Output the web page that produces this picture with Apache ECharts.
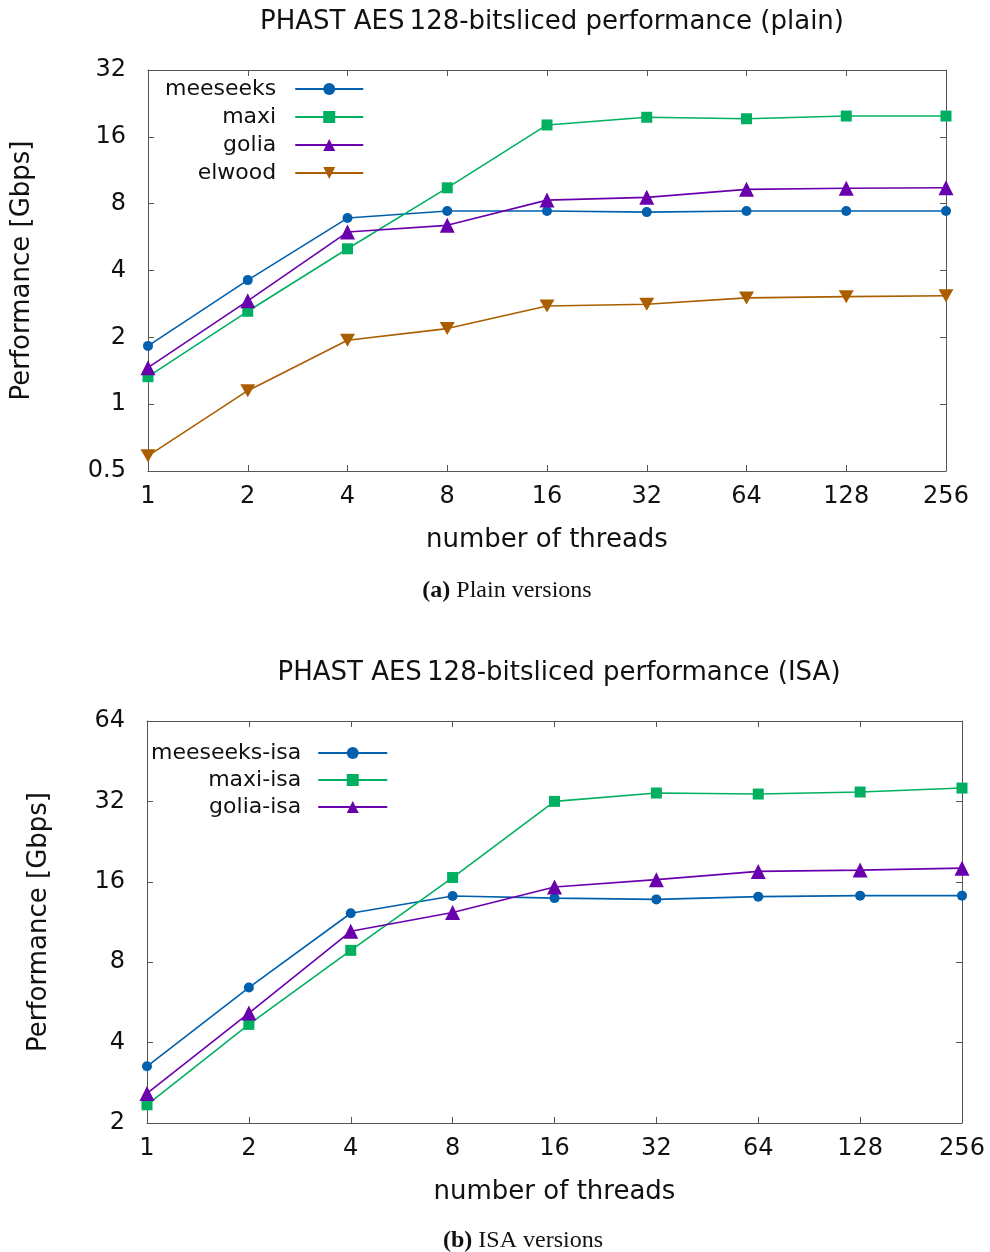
<!DOCTYPE html>
<html>
<head>
<meta charset="utf-8">
<script src="https://cdn.jsdelivr.net/npm/echarts@6/dist/echarts.min.js"></script>
<style>
  html, body { margin: 0; padding: 0; background: #fff; }
  #chart { width: 990px; height: 1252px; }
</style>
</head>
<body>
<div id="chart"></div>
<script>
// Thread counts on the x axis (both panels)
const threads = ['1', '2', '4', '8', '16', '32', '64', '128', '256'];

// Panel (a): plain versions, throughput in Gbps
const meeseeks = [1.83, 3.62, 6.89, 7.41, 7.41, 7.33, 7.41, 7.41, 7.41];
const maxi     = [1.33, 2.62, 5.01, 9.43, 18.1, 19.6, 19.3, 19.85, 19.85];
const golia    = [1.46, 2.92, 5.96, 6.39, 8.30, 8.54, 9.28, 9.38, 9.43];
const elwood   = [0.585, 1.15, 1.94, 2.19, 2.77, 2.82, 3.01, 3.05, 3.08];

// Panel (b): ISA versions, throughput in Gbps
const meeseeksIsa = [3.26, 6.43, 12.2, 14.15, 13.9, 13.75, 14.08, 14.2, 14.2];
const maxiIsa     = [2.34, 4.68, 8.86, 16.6, 32.0, 34.4, 34.1, 34.7, 35.9];
const goliaIsa    = [2.58, 5.16, 10.44, 12.27, 15.3, 16.3, 17.5, 17.7, 18.0];

const FONT = 'DejaVu Sans';
const AXIS_COLOR = '#555';
const C_BLUE = '#0060ad', C_GREEN = '#00b060', C_PURPLE = '#6a00ad', C_ORANGE = '#aa5e00';
const TRI_DOWN = 'path://M0,0 L14,0 L7,12 Z';

function xAxes(gridIndex) {
  const common = {
    type: 'category', gridIndex, data: threads, boundaryGap: false,
    axisLine: { show: true, lineStyle: { color: AXIS_COLOR, width: 1 } },
    axisTick: { show: true, inside: true, length: 6, alignWithLabel: true, lineStyle: { color: AXIS_COLOR } },
    splitLine: { show: false }
  };
  return [
    Object.assign({}, common, {
      position: 'bottom',
      name: 'number of threads', nameLocation: 'middle', nameGap: 56,
      nameTextStyle: { fontFamily: FONT, fontSize: 26, color: '#111' },
      axisLabel: { fontFamily: FONT, fontSize: 24, color: '#111', margin: 14 }
    }),
    Object.assign({}, common, { position: 'top', axisLabel: { show: false } })
  ];
}

function yAxes(gridIndex, min, max, nameGap) {
  const common = {
    type: 'log', logBase: 2, gridIndex, min, max,
    axisLine: { show: true, lineStyle: { color: AXIS_COLOR, width: 1 } },
    axisTick: { show: true, inside: true, length: 6, lineStyle: { color: AXIS_COLOR } },
    splitLine: { show: false }
  };
  return [
    Object.assign({}, common, {
      position: 'left',
      name: 'Performance [Gbps]', nameLocation: 'middle', nameGap,
      nameTextStyle: { fontFamily: FONT, fontSize: 26, color: '#111' },
      axisLabel: { fontFamily: FONT, fontSize: 24, color: '#111', margin: 22, padding: [0, 0, 13, 0] }
    }),
    Object.assign({}, common, { position: 'right', axisLabel: { show: false } })
  ];
}

function line(name, data, color, symbol, size, xi, yi) {
  return {
    name, type: 'line', data, xAxisIndex: xi, yAxisIndex: yi,
    symbol, symbolSize: size, showSymbol: true,
    lineStyle: { color, width: 1.6 },
    itemStyle: { color },
    emphasis: { disabled: true },
    z: 3
  };
}

const chart = echarts.init(document.getElementById('chart'), null, { renderer: 'canvas' });

chart.setOption({
  animation: false,
  backgroundColor: '#fff',
  title: [
    { text: 'PHAST AES\u2009128-bitsliced performance (plain)', left: 547, top: 4, textAlign: 'center',
      textStyle: { fontFamily: FONT, fontSize: 26, fontWeight: 'normal', color: '#111' } },
    { text: 'PHAST AES\u2009128-bitsliced performance (ISA)', left: 554, top: 655, textAlign: 'center',
      textStyle: { fontFamily: FONT, fontSize: 26, fontWeight: 'normal', color: '#111' } },
    { text: '{b|(a)} Plain versions', left: 502, top: 574, textAlign: 'center',
      textStyle: { fontFamily: 'Liberation Serif', fontSize: 24, fontWeight: 'normal', color: '#111',
        rich: { b: { fontFamily: 'Liberation Serif', fontSize: 24, fontWeight: 'bold', color: '#111' } } } },
    { text: '{b|(b)} ISA versions', left: 518, top: 1224, textAlign: 'center',
      textStyle: { fontFamily: 'Liberation Serif', fontSize: 24, fontWeight: 'normal', color: '#111',
        rich: { b: { fontFamily: 'Liberation Serif', fontSize: 24, fontWeight: 'bold', color: '#111' } } } }
  ],
  grid: [
    { left: 148, top: 70, width: 798, height: 401 },
    { left: 147, top: 721, width: 815, height: 402 }
  ],
  legend: [
    { data: ['meeseeks', 'maxi', 'golia', 'elwood'], orient: 'vertical', align: 'right',
      left: 165, top: 78, padding: 0, itemGap: 6, itemWidth: 68, itemHeight: 15,
      textStyle: { fontFamily: FONT, fontSize: 22, color: '#111', padding: [0, 14, 0, 0] },
      selectedMode: false },
    { data: ['meeseeks-isa', 'maxi-isa', 'golia-isa'], orient: 'vertical', align: 'right',
      left: 151, top: 742, padding: 0, itemGap: 5, itemWidth: 69, itemHeight: 15,
      textStyle: { fontFamily: FONT, fontSize: 22, color: '#111', padding: [0, 12, 0, 0] },
      selectedMode: false }
  ],
  xAxis: xAxes(0).concat(xAxes(1)),
  yAxis: yAxes(0, 0.5, 32, 113).concat(yAxes(1, 2, 64, 95)),
  series: [
    line('meeseeks', meeseeks, C_BLUE, 'circle', 10, 0, 0),
    line('maxi', maxi, C_GREEN, 'rect', 11, 0, 0),
    line('golia', golia, C_PURPLE, 'triangle', 15, 0, 0),
    line('elwood', elwood, C_ORANGE, TRI_DOWN, [15, 13], 0, 0),
    line('meeseeks-isa', meeseeksIsa, C_BLUE, 'circle', 10, 2, 2),
    line('maxi-isa', maxiIsa, C_GREEN, 'rect', 11, 2, 2),
    line('golia-isa', goliaIsa, C_PURPLE, 'triangle', 15, 2, 2)
  ]
});
</script>
</body>
</html>
